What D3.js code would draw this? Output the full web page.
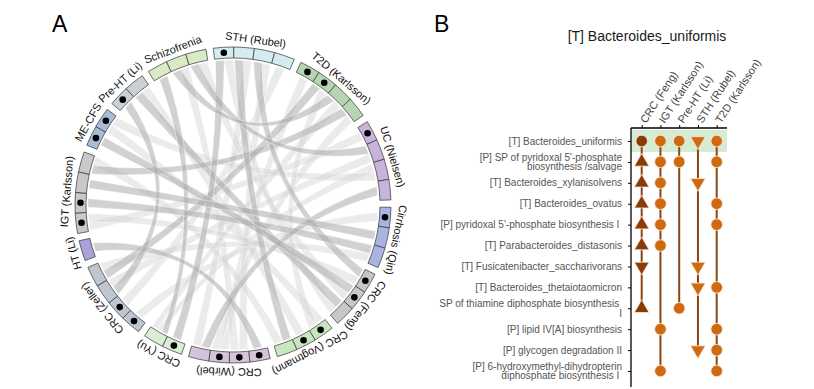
<!DOCTYPE html>
<html>
<head>
<meta charset="utf-8">
<script src="https://cdn.jsdelivr.net/npm/d3@7"></script>
<style>
  body { margin: 0; background: #fff; }
  svg { display: block; font-family: "Liberation Sans", Arial, sans-serif; }
</style>
</head>
<body>
<div id="chart"></div>
<script>
// ---- panel A data: studies round the circle, clockwise from the top
const studies = ["STH (Rubel)", "T2D (Karlsson)", "UC (Nielsen)", "Cirrhosis (Qin)", "CRC (Feng)",
  "CRC (Vogtmann)", "CRC (Wirbel)", "CRC (Yu)", "CRC (Zeller)", "HT (Li)", "IGT (Karlsson)",
  "ME-CFS", "Pre-HT (Li)", "Schizofrenia"];
const cellCounts = [4, 4, 4, 3, 3, 3, 4, 2, 4, 1, 4, 2, 2, 3];
// cells holding a significant hit (black dot)
const hitCells = [[0], [0, 1], [0], [0], [0, 1], [0, 1], [0, 1, 2], [0], [0, 1], [], [0, 1], [0, 1], [0], []];
const studyColors = ["#d4ebf0", "#b8d5b3", "#c8b3da", "#a9b4e0", "#c7c7c7", "#c7e8be", "#d5c3db",
  "#d9efd3", "#bec7d1", "#a9a2d8", "#c9c9c9", "#a7bcd9", "#c9d1d6", "#d9eac6"];

// links between cells: [study, cell, study, cell, strength]
const links = [
  ["T2D (Karlsson)", 3, "IGT (Karlsson)", 3, 2],
  ["T2D (Karlsson)", 1, "CRC (Zeller)", 3, 2],
  ["Pre-HT (Li)", 1, "CRC (Feng)", 2, 2],
  ["Schizofrenia", 0, "CRC (Yu)", 1, 2],
  ["STH (Rubel)", 1, "CRC (Vogtmann)", 2, 2],
  ["STH (Rubel)", 2, "CRC (Feng)", 0, 2],
  ["IGT (Karlsson)", 1, "Cirrhosis (Qin)", 2, 2],
  ["HT (Li)", 0, "CRC (Wirbel)", 0, 2],
  ["CRC (Zeller)", 2, "Pre-HT (Li)", 0, 2],
  ["CRC (Yu)", 0, "STH (Rubel)", 0, 2],
  ["CRC (Wirbel)", 3, "UC (Nielsen)", 3, 2],
  ["Schizofrenia", 2, "UC (Nielsen)", 1, 2],
  ["ME-CFS", 0, "CRC (Feng)", 1, 2],
  ["T2D (Karlsson)", 2, "Schizofrenia", 1, 2],
  ["IGT (Karlsson)", 2, "Cirrhosis (Qin)", 1, 2],
  ["STH (Rubel)", 3, "CRC (Zeller)", 1, 1],
  ["T2D (Karlsson)", 0, "CRC (Wirbel)", 2, 1],
  ["UC (Nielsen)", 0, "IGT (Karlsson)", 0, 1],
  ["UC (Nielsen)", 2, "CRC (Yu)", 1, 1],
  ["Cirrhosis (Qin)", 0, "CRC (Zeller)", 0, 1],
  ["CRC (Feng)", 1, "Schizofrenia", 2, 1],
  ["CRC (Vogtmann)", 0, "ME-CFS", 1, 1],
  ["CRC (Vogtmann)", 1, "Pre-HT (Li)", 1, 1],
  ["CRC (Wirbel)", 1, "STH (Rubel)", 2, 1],
  ["CRC (Wirbel)", 2, "T2D (Karlsson)", 3, 1],
  ["IGT (Karlsson)", 3, "CRC (Vogtmann)", 2, 1],
  ["ME-CFS", 1, "UC (Nielsen)", 2, 1],
  ["Schizofrenia", 1, "CRC (Wirbel)", 1, 1],
  ["STH (Rubel)", 0, "CRC (Feng)", 2, 1],
  ["T2D (Karlsson)", 1, "CRC (Vogtmann)", 0, 1],
  ["CRC (Zeller)", 3, "Cirrhosis (Qin)", 2, 1],
  ["UC (Nielsen)", 1, "CRC (Zeller)", 2, 1],
  ["STH (Rubel)", 1, "CRC (Wirbel)", 3, 1],
  ["CRC (Yu)", 1, "T2D (Karlsson)", 2, 1],
  ["IGT (Karlsson)", 0, "CRC (Feng)", 0, 1]
];

// ---- panel B data
const colNames = ["CRC (Feng)", "IGT (Karlsson)", "Pre-HT (Li)", "STH (Rubel)", "T2D (Karlsson)"];
const rowLabels = [
  "[T] Bacteroides_uniformis",
  "[P] SP of pyridoxal 5'-phosphate\nbiosynthesis /salvage",
  "[T] Bacteroides_xylanisolvens",
  "[T] Bacteroides_ovatus",
  "[P] pyridoxal 5'-phosphate biosynthesis I ",
  "[T] Parabacteroides_distasonis",
  "[T] Fusicatenibacter_saccharivorans",
  "[T] Bacteroides_thetaiotaomicron",
  "SP of thiamine diphosphate biosynthesis \nI",
  "[P] lipid IV[A] biosynthesis",
  "[P] glycogen degradation II",
  "[P] 6-hydroxymethyl-dihydropterin\ndiphosphate biosynthesis I "
];
// shape per row: "o" = circle, "up" / "down" = direction triangles
const crcFeng = ["o", "up", "up", "up", "up", "up", "down", null, "up", null, null, null];
const igtKarlsson = ["o", "o", "o", "o", "o", "o", null, null, null, "o", null, "o"];
const preHtLi = ["o", "o", null, null, null, null, null, null, "o", null, null, null];
const sthRubel = ["down", null, "down", null, null, null, "down", "down", null, null, "down", null];
const t2dKarlsson = ["o", "o", null, "o", "o", null, null, "o", null, "o", "o", "o"];
const colMarks = [crcFeng, igtKarlsson, preHtLi, sthRubel, t2dKarlsson];
const colColors = ["#8a3b08", "#d0690f", "#d0690f", "#d0690f", "#d0690f"];

const W = 814, H = 389;
const svg = d3.select("#chart").append("svg")
  .attr("width", W)
  .attr("height", H);

svg.append("text").attr("x", 52).attr("y", 32)
  .style("font-size", "23px").text("A");
svg.append("text").attr("x", 434).attr("y", 32)
  .style("font-size", "23px").text("B");

// ================= panel A =================
const cx = 233, cy = 205;
const rIn = 147, rOut = 158;
const cellDeg = 7.5;
const gapDeg = (360 - d3.sum(cellCounts) * cellDeg) / studies.length;
const rad = d => d * Math.PI / 180;

let acc = -7.2;
const sectors = studies.map((name, i) => {
  const start = acc;
  acc += cellCounts[i] * cellDeg + gapDeg;
  return { name, i, start, end: start + cellCounts[i] * cellDeg };
});
const sectorByName = {};
sectors.forEach(s => sectorByName[s.name] = s);

const gA = svg.append("g").attr("transform", "translate(" + cx + "," + cy + ")");

// assign every link end a slot inside its cell
const cellEnds = {};
links.forEach((l, k) => {
  [[l[0], l[1]], [l[2], l[3]]].forEach(([s, c], side) => {
    const key = s + "|" + c;
    (cellEnds[key] = cellEnds[key] || []).push({ k, side });
  });
});
const linkAngles = links.map(() => [null, null]);
Object.keys(cellEnds).forEach(key => {
  const [s, c] = key.split("|");
  const sec = sectorByName[s];
  const list = cellEnds[key];
  const slots = Math.max(list.length, 2);
  const slotW = cellDeg * 0.92 / slots;
  const off = sec.start + (+c) * cellDeg + (cellDeg - list.length * slotW) / 2;
  list.forEach((e, j) => {
    linkAngles[e.k][e.side] = [rad(off + j * slotW), rad(off + (j + 1) * slotW)];
  });
});

// ribbon with bezier control points pulled only part of the way to the centre
const rr = rIn - 2;
const pt = a => [Math.sin(a) * rr, -Math.cos(a) * rr];
const ribbonPath = (s, t) => {
  const p = d3.path();
  const ctrl = (a, b) => {
    const pa = pt(a), pb = pt(b);
    return [(pa[0] + pb[0]) * 0.18, (pa[1] + pb[1]) * 0.18];
  };
  const s0 = pt(s[0]), t0 = pt(t[0]);
  p.moveTo(s0[0], s0[1]);
  p.arc(0, 0, rr, s[0] - Math.PI / 2, s[1] - Math.PI / 2);
  let c = ctrl(s[1], t[0]);
  p.quadraticCurveTo(c[0], c[1], t0[0], t0[1]);
  p.arc(0, 0, rr, t[0] - Math.PI / 2, t[1] - Math.PI / 2);
  c = ctrl(t[1], s[0]);
  p.quadraticCurveTo(c[0], c[1], s0[0], s0[1]);
  p.closePath();
  return p.toString();
};

const ribbonData = links.map((l, k) => ({
  source: linkAngles[k][0], target: linkAngles[k][1], strength: l[4]
})).sort((a, b) => a.strength - b.strength);

gA.append("g").selectAll("path")
  .data(ribbonData)
  .enter().append("path")
  .attr("d", d => ribbonPath(d.source, d.target))
  .attr("fill", d => d.strength > 1 ? "#acacac" : "#d2d2d2")
  .attr("fill-opacity", d => d.strength > 1 ? 0.55 : 0.45)
  .attr("stroke", "#fff")
  .attr("stroke-opacity", 0.7)
  .attr("stroke-width", 0.6);

// ring cells
const cellArc = d3.arc().innerRadius(rIn).outerRadius(rOut);
const cells = [];
sectors.forEach(s => {
  for (let c = 0; c < cellCounts[s.i]; c++) {
    cells.push({
      sec: s, c,
      startAngle: rad(s.start + c * cellDeg),
      endAngle: rad(s.start + (c + 1) * cellDeg),
      hit: hitCells[s.i].includes(c)
    });
  }
});

gA.append("g").selectAll("path")
  .data(cells)
  .enter().append("path")
  .attr("d", cellArc)
  .attr("fill", d => studyColors[d.sec.i])
  .attr("stroke", "#333")
  .attr("stroke-width", 0.7);

gA.append("g").selectAll("circle")
  .data(cells.filter(d => d.hit))
  .enter().append("circle")
  .attr("r", 3.3)
  .attr("cx", d => Math.sin((d.startAngle + d.endAngle) / 2) * (rIn + rOut) / 2)
  .attr("cy", d => -Math.cos((d.startAngle + d.endAngle) / 2) * (rIn + rOut) / 2)
  .attr("fill", "#000");

gA.append("g").selectAll("text")
  .data(sectors)
  .enter().append("text")
  .attr("transform", d => "rotate(" + ((d.start + d.end) / 2) + ") translate(0," + (-(rOut + 5)) + ")")
  .attr("text-anchor", "middle")
  .style("font-size", "11px")
  .attr("fill", "#111")
  .text(d => d.name);

// ================= panel B =================
const axX = 631, axTop = 128, axRight = 727, axBottom = 387;
const x = d3.scalePoint().domain(colNames).range([641.7, 716.7]);
const y = d3.scalePoint().domain(d3.range(rowLabels.length)).range([141, 371]);

svg.append("text")
  .attr("x", 647).attr("y", 41)
  .attr("text-anchor", "middle")
  .style("font-size", "14px")
  .attr("fill", "#1a1a1a")
  .text("[T] Bacteroides_uniformis");

// highlight of the focus feature
svg.append("rect")
  .attr("x", axX).attr("y", y(0) - 11)
  .attr("width", axRight - axX).attr("height", 22)
  .attr("fill", "#d5ecd3");

const yAxis = svg.append("g")
  .attr("transform", "translate(" + axX + ",0)")
  .call(d3.axisLeft(y).tickSize(3).tickFormat(""));
yAxis.select(".domain").remove();

const xAxis = svg.append("g")
  .attr("transform", "translate(0," + axTop + ")")
  .call(d3.axisTop(x).tickSize(3).tickFormat(""));
xAxis.select(".domain").remove();

svg.append("line")
  .attr("x1", axX).attr("x2", axX).attr("y1", axTop).attr("y2", axBottom)
  .attr("stroke", "#000").attr("stroke-width", 1.3);
svg.append("line")
  .attr("x1", axX).attr("x2", axRight).attr("y1", axTop).attr("y2", axTop)
  .attr("stroke", "#000").attr("stroke-width", 1.3);

// row labels (some wrap onto two lines)
const rowText = svg.append("g").selectAll("text")
  .data(rowLabels)
  .enter().append("text")
  .attr("text-anchor", "end")
  .style("font-size", "10px")
  .style("white-space", "pre")
  .attr("fill", "#555");
rowText.each(function (d, i) {
  const lines = d.split("\n");
  const t = d3.select(this);
  lines.forEach((ln, j) => {
    t.append("tspan")
      .attr("x", 622)
      .attr("y", y(i) + (j - (lines.length - 1) / 2) * 9.5)
      .attr("dy", "0.35em")
      .text(ln);
  });
});

// column labels
svg.append("g").selectAll("text")
  .data(colNames)
  .enter().append("text")
  .attr("transform", d => "translate(" + (x(d) + 1) + "," + (axTop - 6) + ") rotate(-57)")
  .attr("dy", "0.35em")
  .style("font-size", "11px")
  .attr("fill", "#444")
  .text(d => d);

// vertical connectors per study
colNames.forEach((name, ci) => {
  const rows = colMarks[ci].map((m, r) => m ? r : null).filter(r => r !== null);
  svg.append("line")
    .attr("x1", x(name)).attr("x2", x(name))
    .attr("y1", y(d3.min(rows))).attr("y2", y(d3.max(rows)))
    .attr("stroke", "#8b4513")
    .attr("stroke-width", 2);
});

const markData = [];
colNames.forEach((name, ci) => {
  colMarks[ci].forEach((m, r) => {
    if (m) markData.push({ name, ci, r, shape: m });
  });
});

const tri = d3.symbol().type(d3.symbolTriangle).size(95);
svg.append("g").selectAll("path")
  .data(markData)
  .enter().append("path")
  .attr("d", d => d.shape === "o" ? d3.symbol().type(d3.symbolCircle).size(Math.PI * 5.8 * 5.8)() : tri())
  .attr("transform", d => "translate(" + x(d.name) + "," + y(d.r) + ")" +
    (d.shape === "down" ? " rotate(180)" : ""))
  .attr("fill", d => colColors[d.ci])
  .attr("stroke", "#fbeee2")
  .attr("stroke-width", 0.8);
</script>
</body>
</html>
